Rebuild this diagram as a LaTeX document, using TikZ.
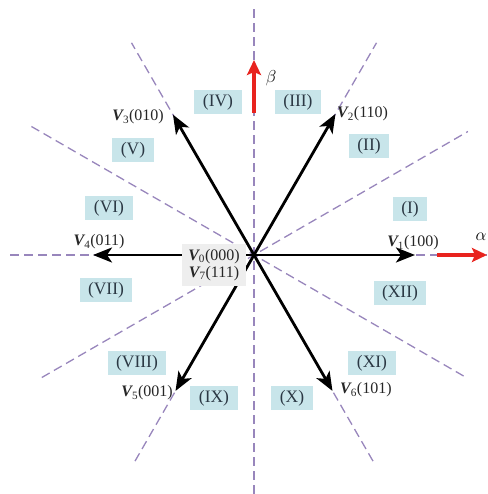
\documentclass[tikz,border=0pt]{standalone}
\usepackage{fontspec}
\setmainfont{Liberation Serif}
\usetikzlibrary{calc,arrows.meta}
\definecolor{boxblue}{HTML}{C8E5EA}
\definecolor{boxgrey}{HTML}{EEEEEE}
\definecolor{dashc}{HTML}{9886BC}
\definecolor{txtc}{HTML}{2B3844}
\definecolor{redc}{HTML}{E8231E}
\tikzset{
  sector/.style={fill=boxblue, text=txtc, font=\fontsize{17.5}{19}\selectfont, inner xsep=8.5pt, inner ysep=1pt, minimum height=24pt},
  vlabel/.style={text=black!85, font=\fontsize{16}{18}\selectfont, inner sep=1pt},
  divline/.style={dashc, line width=1.3pt, dash pattern=on 9pt off 5pt},
  vec/.style={black, line width=2.8pt, -{Stealth[length=19pt,width=15pt,inset=5pt]}},
  axisarrow/.style={redc, line width=4pt, -{Stealth[length=15pt,width=14pt,inset=3pt]}}
}
\newcommand{\Vl}[2]{{\bfseries\itshape V}\textsubscript{#1}(#2)}
\begin{document}
\begin{tikzpicture}[x=1pt,y=1pt]
\useasboundingbox (0,0) rectangle (487,494);
\coordinate (C) at (254,239);
% dashed sector boundaries
\coordinate (H1) at (10,239);
\coordinate (H2) at (487,239);
\coordinate (Vt) at (254,486);
\coordinate (Vb) at (254,0);
\coordinate (D30) at ($(C)+(30:247)$);
\coordinate (D210) at ($(C)+(210:245)$);
\coordinate (D150) at ($(C)+(150:258)$);
\coordinate (D330) at ($(C)+(330:242)$);
\coordinate (D60) at ($(C)+(60:245)$);
\coordinate (D120) at ($(C)+(120:245)$);
\coordinate (D240) at ($(C)+(240:238)$);
\coordinate (D300) at ($(C)+(300:238)$);
\draw[divline] (H1) -- (H2);
\draw[divline] (Vb) -- (Vt);
\draw[divline] (D210) -- (D30);
\draw[divline] (D330) -- (D150);
\draw[divline] (D240) -- (D60);
\draw[divline] (D300) -- (D120);
% red axes
\coordinate (Bs) at (254,381);
\coordinate (Be) at (254,434);
\coordinate (As) at (437,239);
\coordinate (Ae) at (487,239);
\draw[axisarrow] (Bs) -- (Be);
\draw[axisarrow] (As) -- (Ae);
\node[font=\fontsize{18}{20}\selectfont] (beta) at (271,416) {$\beta$};
\node[font=\fontsize{18}{20}\selectfont] (alpha) at (481,257) {$\alpha$};
% vectors
\coordinate (T1) at ($(C)+(0:161)$);
\coordinate (T2) at ($(C)+(60:163)$);
\coordinate (T3) at ($(C)+(120:162)$);
\coordinate (T4) at ($(C)+(180:161)$);
\coordinate (T5) at ($(C)+(240:157)$);
\coordinate (T6) at ($(C)+(300:157)$);
\foreach \t in {1,...,6} {\draw[vec] (C) -- (T\t);}
% vector labels
\node[vlabel] (L1) at (413,251) {\Vl{1}{100}};
\node[vlabel, anchor=west] (L2) at (336,380) {\Vl{2}{110}};
\node[vlabel, anchor=east] (L3) at (165,377) {\Vl{3}{010}};
\node[vlabel] (L4) at (99,252) {\Vl{4}{011}};
\node[vlabel, anchor=east] (L5) at (174,101) {\Vl{5}{001}};
\node[vlabel, anchor=west] (L6) at (339,104) {\Vl{6}{101}};
\node[fill=boxgrey, text=black!85, font=\fontsize{16}{19}\selectfont, align=center, inner xsep=6pt, inner ysep=5pt] (L0) at (214,229) {\Vl{0}{000}\\[-2pt]\Vl{7}{111}};
% sectors
\node[sector] (s1) at (410,285) {(I)};
\node[sector] (s2) at (369,348) {(II)};
\node[sector] (s3) at (298,392) {(III)};
\node[sector] (s4) at (218,392) {(IV)};
\node[sector] (s5) at (133,344) {(V)};
\node[sector] (s6) at (109,286) {(VI)};
\node[sector] (s7) at (106,204) {(VII)};
\node[sector] (s8) at (137,131) {(VIII)};
\node[sector] (s9) at (214,96) {(IX)};
\node[sector] (s10) at (292,96) {(X)};
\node[sector] (s11) at (372,131) {(XI)};
\node[sector] (s12) at (400,201) {(XII)};
\end{tikzpicture}
\end{document}
